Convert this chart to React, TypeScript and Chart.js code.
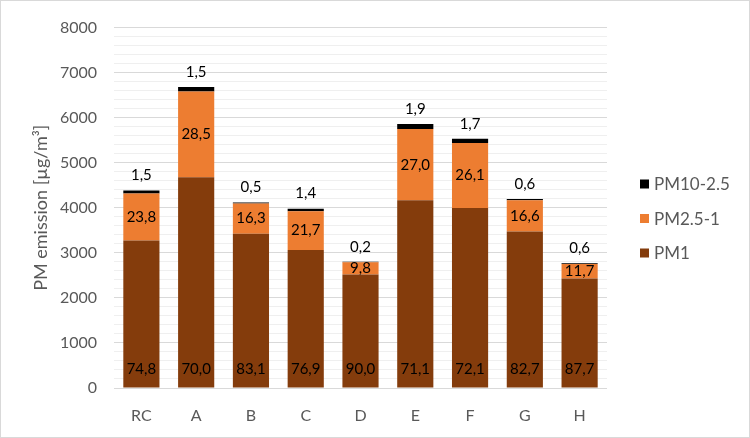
import { useEffect, useRef } from 'react';
import { Chart, registerables } from 'chart.js';

Chart.register(...registerables);

const categories = ['RC', 'A', 'B', 'C', 'D', 'E', 'F', 'G', 'H'];
const pm1 = [3276, 4676, 3424, 3061, 2520, 4166, 3994, 3473, 2429];
const pm25to1 = [1042, 1904, 672, 864, 274, 1582, 1446, 697, 324];
const pm10to25 = [66, 100, 21, 56, 6, 111, 94, 25, 17];
const pm1Labels = ['74,8', '70,0', '83,1', '76,9', '90,0', '71,1', '72,1', '82,7', '87,7'];
const pm25to1Labels = ['23,8', '28,5', '16,3', '21,7', '9,8', '27,0', '26,1', '16,6', '11,7'];
const pm10to25Labels = ['1,5', '1,5', '0,5', '1,4', '0,2', '1,9', '1,7', '0,6', '0,6'];
const seriesNames = ['PM1', 'PM2.5-1', 'PM10-2.5'];
const seriesColors = ['#843C0C', '#ED7D31', '#000000'];

const FONT = 'Lato, "Open Sans", sans-serif';

const labelPlugin = {
  id: 'segLabels',
  afterDatasetsDraw(chart: any) {
    const ctx = chart.ctx;
    ctx.save();
    ctx.font = `15px ${FONT}`;
    ctx.fillStyle = '#000';
    ctx.textAlign = 'center';
    ctx.textBaseline = 'middle';
    const all = [pm1Labels, pm25to1Labels, pm10to25Labels];
    chart.data.datasets.forEach((_: any, di: number) => {
      const meta = chart.getDatasetMeta(di);
      meta.data.forEach((el: any, i: number) => {
        const { x, y, base } = el.getProps(['x', 'y', 'base'], true);
        let ty;
        if (di === 0) ty = base - 18;
        else if (di === 1) ty = (y + base) / 2;
        else ty = y - 15;
        ctx.fillText(all[di][i], x, ty);
      });
    });
    ctx.restore();
  },
};

const legendPlugin = {
  id: 'customLegend',
  afterDraw(chart: any) {
    const ctx = chart.ctx;
    const { right } = chart.chartArea;
    const x0 = right + 33;
    const rows = [2, 1, 0];
    ctx.save();
    ctx.font = `17px ${FONT}`;
    ctx.textBaseline = 'middle';
    ctx.textAlign = 'left';
    rows.forEach((di, r) => {
      const cy = 183 + r * 34.5;
      ctx.fillStyle = seriesColors[di];
      ctx.fillRect(x0, cy - 4.5, 9, 9);
      ctx.fillStyle = '#595959';
      ctx.fillText(seriesNames[di], x0 + 14, cy + 1);
    });
    ctx.restore();
  },
};

export default function App() {
  const ref = useRef<HTMLCanvasElement>(null);
  useEffect(() => {
    const chart = new Chart(ref.current as HTMLCanvasElement, {
      type: 'bar',
      data: {
        labels: categories,
        datasets: [
          { label: seriesNames[0], data: pm1, backgroundColor: seriesColors[0] },
          { label: seriesNames[1], data: pm25to1, backgroundColor: seriesColors[1] },
          { label: seriesNames[2], data: pm10to25, backgroundColor: seriesColors[2] },
        ],
      },
      options: {
        responsive: false,
        animation: false,
        layout: { padding: { left: 0, right: 142, top: 22, bottom: 0 } },
        datasets: { bar: { categoryPercentage: 1, barPercentage: 0.66 } } as any,
        plugins: { legend: { display: false }, tooltip: { enabled: false } },
        scales: {
          x: {
            stacked: true,
            grid: { display: false, drawTicks: false },
            border: { display: false },
            ticks: { color: '#595959', font: { family: FONT, size: 16 }, padding: 18 },
            afterFit: (s: any) => { s.height = 49; },
          },
          y: {
            stacked: true,
            min: 0,
            max: 8000,
            grid: {
              drawTicks: false,
              color: (c: any) => (c.tick && c.tick.value % 1000 === 0 ? '#d9d9d9' : '#efefef'),
            },
            border: { display: false },
            ticks: {
              stepSize: 200,
              autoSkip: false,
              color: '#595959',
              font: { family: FONT, size: 16 },
              padding: 17,
              callback: (v: any) => (Number(v) % 1000 === 0 ? String(v) : ''),
            },
            title: {
              display: true,
              text: 'PM emission [µg/m³]',
              color: '#595959',
              font: { family: FONT, size: 18 },
              padding: { top: 29, bottom: 0 },
            },
            afterFit: (s: any) => { s.width = 113; },
          },
        },
      },
      plugins: [labelPlugin, legendPlugin],
    });
    return () => chart.destroy();
  }, []);
  return (
    <div
      style={{
        position: 'fixed',
        left: 0,
        top: 0,
        width: 750,
        height: 438,
        boxSizing: 'border-box',
        border: '1px solid #d9d9d9',
        background: '#fff',
      }}
    >
      <canvas ref={ref} width={748} height={436} style={{ display: 'block', width: 748, height: 436 }} />
    </div>
  );
}
